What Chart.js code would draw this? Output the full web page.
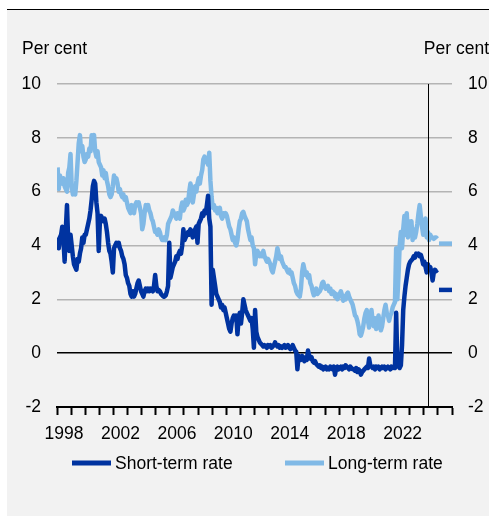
<!DOCTYPE html>
<html>
<head>
<meta charset="utf-8">
<script src="https://cdn.jsdelivr.net/npm/chart.js@4.4.1/dist/chart.umd.min.js"></script>
<style>
html, body { margin: 0; padding: 0; background: #fff; }
#rateChart { display: block; }
</style>
</head>
<body>
<canvas id="rateChart" width="489" height="516"></canvas>
<script>
// monthly data, Jan 1998 - Dec 2024 (per cent)
var startYear = 1998;
var shortTerm = [
  4.3, 3.9, 4.3, 4.4, 4.7, 4.2, 3.4, 4.6, 5.5, 4.2, 3.8, 4.4,   // 1998
  4.0, 3.6, 3.3, 3.2, 3.1, 3.5, 3.4, 3.7, 3.9, 4.3, 4.1, 4.4,   // 1999
  4.4, 4.6, 4.8, 5.0, 5.3, 5.7, 6.2, 6.4, 6.3, 5.6, 5.2, 3.8,   // 2000
  4.9, 5.1, 5.0, 4.9, 5.0, 4.8, 4.5, 4.1, 3.8, 3.7, 3.4, 3.0,   // 2001
  3.9, 4.0, 4.1, 4.0, 4.1, 3.9, 3.8, 3.6, 3.5, 3.3, 2.9, 2.8,   // 2002
  2.6, 2.5, 2.2, 2.1, 2.3, 2.1, 2.2, 2.4, 2.6, 2.7, 2.5, 2.3,   // 2003
  2.2, 2.1, 2.3, 2.4, 2.3, 2.4, 2.3, 2.4, 2.35, 2.3, 2.5, 2.9,  // 2004
  2.5, 2.3, 2.35, 2.3, 2.2, 2.15, 2.1, 2.1, 2.15, 2.3, 2.5, 4.1, // 2005
  2.8, 3.0, 3.2, 3.3, 3.4, 3.6, 3.5, 3.7, 3.8, 3.7, 4.0, 4.6,   // 2006
  4.2, 4.3, 4.4, 4.5, 4.4, 4.6, 4.5, 4.3, 4.4, 4.6, 4.7, 4.1,   // 2007
  4.8, 4.9, 5.0, 5.2, 5.1, 5.3, 5.2, 5.5, 5.85, 5.0, 4.7, 1.8,  // 2008
  3.1, 2.8, 2.5, 2.2, 2.1, 2.0, 1.9, 1.7, 1.8, 1.6, 1.7, 1.5,   // 2009
  1.3, 1.1, 0.9, 0.8, 1.1, 1.3, 1.4, 1.3, 1.4, 0.7, 1.3, 1.5,   // 2010
  1.1, 1.5, 2.0, 1.8, 1.6, 1.5, 1.4, 1.3, 1.2, 1.3, 0.9, 0.2,   // 2011
  1.6, 0.8, 0.6, 0.5, 0.4, 0.35, 0.3, 0.25, 0.3, 0.25, 0.2, 0.3, // 2012
  0.25, 0.3, 0.2, 0.25, 0.3, 0.4, 0.3, 0.25, 0.3, 0.2, 0.25, 0.2, // 2013
  0.25, 0.3, 0.2, 0.25, 0.3, 0.2, 0.15, 0.2, 0.3, 0.2, 0.1, 0.05, // 2014
  -0.6, -0.1, -0.2, -0.25, -0.1, -0.2, -0.3, -0.15, -0.25, 0.1, -0.1, -0.2, // 2015
  -0.15, -0.3, -0.35, -0.3, -0.4, -0.45, -0.5, -0.45, -0.55, -0.5, -0.6, -0.55, // 2016
  -0.5, -0.6, -0.55, -0.6, -0.5, -0.55, -0.6, -0.5, -0.8, -0.55, -0.5, -0.6, // 2017
  -0.55, -0.5, -0.6, -0.5, -0.55, -0.45, -0.5, -0.55, -0.6, -0.5, -0.55, -0.6, // 2018
  -0.6, -0.65, -0.55, -0.7, -0.6, -0.65, -0.8, -0.7, -0.65, -0.6, -0.55, -0.5, // 2019
  -0.55, -0.2, -0.45, -0.5, -0.55, -0.5, -0.6, -0.5, -0.55, -0.5, -0.6, -0.55, // 2020
  -0.5, -0.55, -0.5, -0.6, -0.55, -0.5, -0.55, -0.6, -0.5, -0.55, -0.5, -0.55, // 2021
  1.5, -0.35, -0.5, -0.55, -0.45, 0.3, 1.6, 2.1, 2.5, 2.8, 3.1, 3.3, // 2022
  3.4, 3.45, 3.5, 3.6, 3.55, 3.7, 3.65, 3.7, 3.6, 3.65, 3.5, 3.3, // 2023
  3.4, 3.2, 3.0, 3.3, 3.1, 3.2, 3.0, 2.7, 3.0, 3.1, 3.05, 3.1  // 2024
];
var longTerm = [
  6.9, 6.1, 6.6, 6.4, 6.3, 6.5, 6.2, 6.1, 6.0, 6.7, 6.9, 7.4,   // 1998
  6.2, 5.9, 6.0, 5.9, 6.4, 7.1, 7.8, 8.1, 7.5, 7.7, 7.3, 7.1,   // 1999
  7.2, 7.4, 7.3, 7.6, 7.5, 8.1, 8.0, 8.1, 7.5, 7.3, 7.5, 7.1,   // 2000
  7.0, 6.9, 6.6, 6.8, 6.5, 6.7, 6.4, 6.2, 5.9, 5.8, 5.9, 6.2,   // 2001
  6.6, 6.4, 6.5, 6.3, 6.0, 6.1, 5.9, 5.8, 5.9, 5.7, 5.8, 5.6,   // 2002
  5.4, 5.3, 5.2, 5.5, 5.3, 5.2, 5.5, 5.6, 5.5, 5.6, 5.4, 5.2,   // 2003
  4.6, 4.8, 5.2, 5.5, 5.4, 5.5, 5.3, 5.2, 5.0, 4.9, 4.7, 4.5,   // 2004
  4.5, 4.4, 4.6, 4.5, 4.3, 4.2, 4.2, 4.3, 4.2, 4.4, 4.8, 4.9,   // 2005
  5.0, 5.1, 5.3, 5.2, 5.1, 5.0, 5.2, 5.1, 5.0, 5.4, 5.6, 5.3,   // 2006
  5.4, 5.7, 5.5, 5.6, 6.0, 6.3, 6.1, 5.6, 5.9, 6.2, 6.0, 6.3,   // 2007
  6.5, 6.3, 6.6, 6.8, 7.2, 7.3, 7.1, 7.2, 7.0, 7.45, 6.4, 5.8,  // 2008
  5.4, 5.5, 5.3, 5.4, 5.2, 5.3, 5.4, 5.1, 5.0, 5.2, 5.1, 5.2,   // 2009
  5.1, 4.9, 4.7, 4.6, 4.4, 4.2, 4.3, 4.1, 4.0, 4.2, 4.6, 4.9,   // 2010
  5.0, 5.2, 5.25, 5.1, 5.0, 4.9, 4.6, 4.4, 4.2, 4.3, 4.0, 3.9,  // 2011
  3.3, 3.7, 3.8, 3.7, 3.6, 3.7, 3.6, 3.8, 3.6, 3.5, 3.4, 3.5,   // 2012
  3.4, 3.3, 3.1, 3.0, 3.2, 3.4, 3.6, 3.9, 3.7, 3.5, 3.6, 3.4,   // 2013
  3.3, 3.2, 3.2, 3.1, 3.0, 3.1, 2.95, 3.0, 2.8, 2.6, 2.5, 2.3,  // 2014
  2.2, 2.15, 2.1, 2.4, 3.0, 3.3, 3.1, 2.9, 3.0, 2.8, 2.9, 2.6,  // 2015
  2.5, 2.3, 2.15, 2.3, 2.4, 2.2, 2.25, 2.3, 2.4, 2.6, 2.65, 2.5, // 2016
  2.4, 2.45, 2.5, 2.3, 2.4, 2.2, 2.3, 2.25, 2.1, 2.2, 2.0, 2.1, // 2017
  2.2, 2.3, 2.15, 1.95, 2.1, 2.0, 2.2, 2.25, 2.1, 2.0, 1.9, 1.8, // 2018
  1.6, 1.4, 1.35, 1.2, 1.0, 0.7, 0.65, 0.8, 1.0, 1.3, 1.5, 1.6, // 2019
  1.2, 0.95, 1.3, 1.6, 1.2, 1.0, 1.3, 0.9, 1.1, 1.4, 1.0, 0.85, // 2020
  1.0, 1.3, 1.6, 1.8, 1.5, 1.4, 1.2, 1.4, 1.5, 1.7, 1.8, 1.9,   // 2021
  3.9, 2.0, 2.9, 4.0, 4.5, 3.9, 4.6, 5.1, 4.4, 5.2, 4.3, 4.9,   // 2022
  4.6, 4.9, 4.2, 4.6, 4.3, 4.5, 4.8, 5.2, 5.5, 5.1, 4.7, 4.4,   // 2023
  4.6, 5.0, 4.3, 4.5, 4.2, 4.4, 4.3, 4.3, 4.25, 4.3, 4.3, 4.25  // 2024
];
// assumptions for 2025
var assumptionDates = [2025.08, 2026.0];
var shortTermAssumption = [2.35, 2.35];
var longTermAssumption = [4.07, 4.07];

var seriesNames = ['Short-term rate', 'Long-term rate'];
var markerDate = 2024.33;
var yUnit = 'Per cent';

var DARK = '#0033a0';
var LIGHT = '#80b9e6';
var FONT = '"Liberation Sans", Arial, sans-serif';

Chart.defaults.font.family = FONT;
Chart.defaults.font.size = 17.5;
Chart.defaults.color = '#000';

function monthly(values) {
  return values.map(function(v, i) { return {x: startYear + (i + 0.5) / 12, y: v}; });
}
function pairs(xs, ys) {
  return xs.map(function(x, i) { return {x: x, y: ys[i]}; });
}

function lineSet(label, data, color) {
  return {
    label: label,
    data: data,
    borderColor: color,
    backgroundColor: color,
    borderWidth: 4.5,
    pointRadius: 0,
    tension: 0,
    borderJoinStyle: 'round',
    fill: false
  };
}

var panelPlugin = {
  id: 'panel',
  beforeDraw: function(chart) {
    var ctx = chart.ctx;
    ctx.save();
    ctx.fillStyle = '#f2f2f2';
    ctx.fillRect(7, 10, chart.width - 7, chart.height - 10);
    ctx.strokeStyle = '#000';
    ctx.lineWidth = 1;
    ctx.beginPath();
    ctx.moveTo(7, 9.5);
    ctx.lineTo(chart.width, 9.5);
    ctx.stroke();
    ctx.restore();
  }
};

var markerPlugin = {
  id: 'marker',
  afterDatasetsDraw: function(chart) {
    var ctx = chart.ctx, area = chart.chartArea;
    var x = Math.round(chart.scales.x.getPixelForValue(markerDate)) + 0.5;
    ctx.save();
    ctx.strokeStyle = '#000';
    ctx.lineWidth = 1;
    ctx.beginPath();
    ctx.moveTo(x, area.top);
    ctx.lineTo(x, area.bottom);
    ctx.stroke();
    ctx.restore();
  }
};

var textPlugin = {
  id: 'texts',
  afterDraw: function(chart) {
    var ctx = chart.ctx;
    ctx.save();
    ctx.font = '17.5px ' + FONT;
    ctx.fillStyle = '#000';
    ctx.textBaseline = 'alphabetic';
    ctx.textAlign = 'left';
    ctx.fillText(yUnit, 22, 54);
    ctx.textAlign = 'right';
    ctx.fillText(yUnit, 489, 54);

    // legend
    var items = [{text: seriesNames[0], color: DARK, x: 72}, {text: seriesNames[1], color: LIGHT, x: 285}];
    var y = 463;
    ctx.textAlign = 'left';
    ctx.textBaseline = 'middle';
    items.forEach(function(it) {
      ctx.strokeStyle = it.color;
      ctx.lineWidth = 5;
      ctx.beginPath();
      ctx.moveTo(it.x, y);
      ctx.lineTo(it.x + 39, y);
      ctx.stroke();
      ctx.fillText(it.text, it.x + 43, y + 1);
    });
    ctx.restore();
  }
};

var ctx = document.getElementById('rateChart').getContext('2d');
var rateChart = new Chart(ctx, {
  type: 'line',
  data: {
    datasets: [
      lineSet(seriesNames[0], monthly(shortTerm), DARK),
      lineSet(seriesNames[0] + ' assumption', pairs(assumptionDates, shortTermAssumption), DARK),
      lineSet(seriesNames[1], monthly(longTerm), LIGHT),
      lineSet(seriesNames[1] + ' assumption', pairs(assumptionDates, longTermAssumption), LIGHT)
    ]
  },
  options: {
    responsive: false,
    animation: false,
    layout: { padding: { left: 7, right: 0, top: 84, bottom: 69 } },
    plugins: {
      legend: { display: false },
      tooltip: { enabled: false }
    },
    scales: {
      x: {
        type: 'linear',
        min: 1998,
        max: 2026,
        afterBuildTicks: function(scale) {
          var t = [];
          for (var v = 1998; v <= 2026; v += 0.5) t.push({value: v});
          scale.ticks = t;
        },
        afterFit: function(scale) { scale.height = 40; },
        ticks: {
          autoSkip: false,
          maxRotation: 0,
          padding: 9,
          callback: function(value) {
            var y = value - 0.5;
            if (value % 1 === 0.5 && (y - 1998) % 4 === 0) return String(y);
            return '';
          }
        },
        grid: {
          display: true,
          drawOnChartArea: false,
          drawTicks: true,
          tickLength: 8,
          tickWidth: 2,
          tickColor: function(c) {
            return (c.tick && Number.isInteger(c.tick.value)) ? '#000' : 'rgba(0,0,0,0)';
          }
        },
        border: { display: true, color: '#000', width: 2 }
      },
      y: {
        position: 'left',
        min: -2,
        max: 10,
        afterFit: function(scale) { scale.width = 50; },
        ticks: { stepSize: 2, padding: 16 },
        grid: {
          drawTicks: false,
          lineWidth: 1.5,
          color: function(c) {
            if (!c.tick) return '#b4b4b4';
            if (c.tick.value === 0) return '#000';
            if (c.tick.value === -2) return 'rgba(0,0,0,0)';
            return '#b4b4b4';
          }
        },
        border: { display: false }
      },
      y2: {
        position: 'right',
        min: -2,
        max: 10,
        afterFit: function(scale) { scale.width = 37; },
        ticks: { stepSize: 2, padding: 16 },
        grid: { display: false, drawTicks: false },
        border: { display: false }
      }
    }
  },
  plugins: [panelPlugin, markerPlugin, textPlugin]
});
</script>
</body>
</html>
